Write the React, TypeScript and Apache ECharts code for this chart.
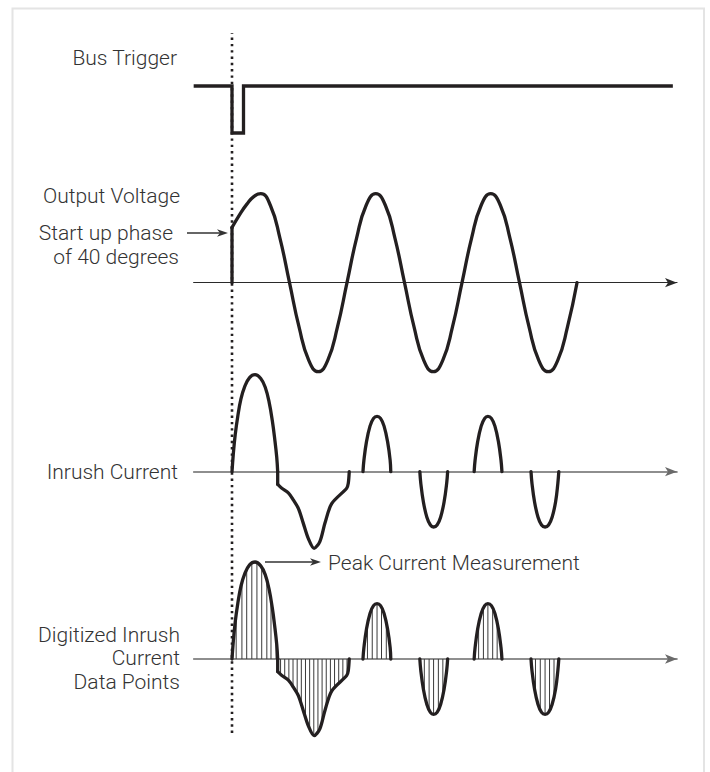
import React, { useEffect, useRef } from "react";
import * as echarts from "echarts";

// x unit: degrees of the mains cycle, counted from the bus trigger (0)
const X_MIN = -120;
const X_MAX = 1393;

// text
const LABEL_BUS = "Bus Trigger";
const LABEL_VOLT = "Output Voltage";
const LABEL_PHASE_1 = "Start up phase";
const LABEL_PHASE_2 = "of 40 degrees";
const LABEL_INRUSH = "Inrush Current";
const LABEL_DIG_1 = "Digitized Inrush";
const LABEL_DIG_2 = "Current";
const LABEL_DIG_3 = "Data Points";
const LABEL_PEAK = "Peak Current Measurement";

// bus trigger level (1 = high, 0 = low)
const busTrigger: number[][] = [[-120, 1], [0, 1], [0, 0], [36, 0], [36, 1], [1380, 1]];

// output voltage (peak = 1)
const voltageStep: number[][] = [[0, 0], [0, 0.62]];
const voltageWave: number[][] = [
  [0, 0.62], [23, 0.76], [46, 0.88], [69, 0.97], [90, 1],
  [120, 0.87], [150, 0.5], [180, 0], [210, -0.5], [240, -0.87], [270, -1], [300, -0.87], [330, -0.5],
  [360, 0], [390, 0.5], [420, 0.87], [450, 1], [480, 0.87], [510, 0.5], [540, 0],
  [570, -0.5], [600, -0.87], [630, -1], [660, -0.87], [690, -0.5], [720, 0],
  [750, 0.5], [780, 0.87], [810, 1], [840, 0.87], [870, 0.5], [900, 0],
  [930, -0.5], [960, -0.87], [990, -1], [1020, -0.87], [1050, -0.5], [1080, 0],
];

// inrush current (first peak = 1)
const inrushLobe1: number[][] = [
  [0, 0], [4, 0.18], [10, 0.38], [18, 0.57], [28, 0.75], [40, 0.88], [55, 0.97], [72, 1],
  [90, 0.96], [104, 0.87], [116, 0.72], [126, 0.53], [134, 0.33], [140, 0.15], [143, 0],
];
const inrushDip: number[][] = [[143, 0], [143, -0.13]];
const inrushTrough: number[][] = [
  [143, -0.13], [156, -0.17], [177, -0.22], [192, -0.29], [208, -0.38], [223, -0.53], [239, -0.69],
  [257, -0.79], [275, -0.72], [291, -0.53], [312, -0.33], [359, -0.17], [364, -0.12], [367, 0],
];
const lobeP1: number[][] = [
  [410, 0], [413, 0.12], [421, 0.31], [432, 0.47], [443, 0.55], [454, 0.57], [465, 0.55], [476, 0.47], [487, 0.31], [495, 0.12], [497, 0],
];
const lobeN1: number[][] = [
  [588, 0], [591, -0.12], [599, -0.31], [610, -0.47], [621, -0.55], [631, -0.57], [642, -0.55], [653, -0.47], [664, -0.31], [672, -0.12], [675, 0],
];
const lobeP2: number[][] = [
  [758, 0], [761, 0.12], [769, 0.31], [780, 0.47], [791, 0.55], [801, 0.57], [812, 0.55], [823, 0.47], [834, 0.31], [842, 0.12], [845, 0],
];
const lobeN2: number[][] = [
  [936, 0], [939, -0.12], [947, -0.31], [958, -0.47], [969, -0.55], [980, -0.57], [991, -0.55], [1002, -0.47], [1013, -0.31], [1020, -0.12], [1023, 0],
];

// digitizer samples
const samples: number[][] = [
  [13, 0.45], [31, 0.79], [46, 0.92], [62, 0.99], [78, 1.0], [93, 0.95], [109, 0.8], [122, 0.62], [138, 0.22],
  [152, -0.16], [165, -0.19], [178, -0.22], [191, -0.29], [204, -0.36], [217, -0.47], [230, -0.61], [243, -0.72],
  [256, -0.79], [269, -0.75], [282, -0.63], [295, -0.5], [308, -0.37], [321, -0.3], [334, -0.26], [347, -0.21], [360, -0.16],
  [424, 0.36], [439, 0.52], [454, 0.57], [468, 0.52], [483, 0.36],
  [602, -0.36], [617, -0.52], [631, -0.57], [646, -0.52], [660, -0.36],
  [772, 0.36], [787, 0.52], [801, 0.57], [816, 0.52], [830, 0.36],
  [950, -0.36], [965, -0.52], [980, -0.57], [994, -0.52], [1008, -0.36],
];

// dotted trigger marker
const triggerMarker: number[][] = [[0, 0], [0, 1]];

const INK = "#231f20";
const TEXT = "#333333";
const FONT = "Roboto";

export default function App() {
  const ref = useRef<HTMLDivElement>(null);

  useEffect(() => {
    document.body.style.margin = "0";
    if (!ref.current) return;
    const chart = echarts.init(ref.current, undefined, { renderer: "svg" });

    const gridLeft = 193.67;
    const gridRight = 33;
    const grids = [
      { left: gridLeft, right: gridRight, top: 86, height: 47 }, // 0 bus
      { left: gridLeft, right: gridRight, top: 175.9, height: 213.6 }, // 1 voltage
      { left: gridLeft, right: gridRight, top: 355.3, height: 213.4 }, // 2 inrush
      { left: gridLeft, right: gridRight, top: 542.6, height: 213.4 }, // 3 digitized
      { left: gridLeft, right: gridRight, top: 33, height: 700 }, // 4 marker
    ];

    const mkX = (i: number, axisShow: boolean, color: string, width: number) => ({
      gridIndex: i,
      type: "value",
      min: X_MIN,
      max: X_MAX,
      show: axisShow,
      axisLine: {
        show: axisShow,
        onZero: true,
        symbol: ["none", "arrow"],
        symbolSize: [7, 12],
        lineStyle: { color, width },
      },
      axisTick: { show: false },
      axisLabel: { show: false },
      splitLine: { show: false },
    });
    const mkY = (i: number, min: number, max: number) => ({
      gridIndex: i,
      type: "value",
      min,
      max,
      show: false,
      splitLine: { show: false },
    });

    const curve = (data: number[][], grid: number, smooth: boolean | number) => ({
      type: "line",
      xAxisIndex: grid,
      yAxisIndex: grid,
      data,
      smooth,
      showSymbol: false,
      symbol: "none",
      clip: false,
      z: 3,
      lineStyle: { color: INK, width: 3.3, cap: "round", join: "round" },
    });

    const currentSegments: [number[][], boolean | number][] = [
      [inrushLobe1, 0.4],
      [inrushDip, false],
      [inrushTrough, 0.3],
      [lobeP1, 0.4],
      [lobeN1, 0.4],
      [lobeP2, 0.4],
      [lobeN2, 0.4],
    ];

    const series: any[] = [
      {
        type: "line",
        xAxisIndex: 0,
        yAxisIndex: 0,
        data: busTrigger,
        showSymbol: false,
        symbol: "none",
        clip: false,
        lineStyle: { color: INK, width: 3.3, cap: "butt", join: "miter" },
      },
      curve(voltageStep, 1, false),
      curve(voltageWave, 1, true),
      ...currentSegments.map(([d, s]) => curve(d, 2, s)),
      ...currentSegments.map(([d, s]) => curve(d, 3, s)),
      {
        type: "bar",
        xAxisIndex: 3,
        yAxisIndex: 3,
        data: samples,
        barWidth: 1,
        z: 1,
        itemStyle: { color: "#3a3a3a" },
      },
      {
        type: "line",
        xAxisIndex: 4,
        yAxisIndex: 4,
        data: triggerMarker,
        showSymbol: false,
        symbol: "none",
        clip: false,
        z: 4,
        lineStyle: { color: INK, width: 2.6, type: [2.4, 3.9], cap: "butt" },
      },
    ];

    const txt = (text: string, x: number, y: number, align: string) => ({
      type: "text",
      x,
      y,
      silent: true,
      style: {
        text,
        fill: TEXT,
        fontFamily: FONT,
        fontWeight: 300,
        fontSize: 21,
        align,
        verticalAlign: "middle",
      },
    });

    const graphic: any[] = [
      {
        type: "rect",
        shape: { x: 12.5, y: 8.5, width: 691.5, height: 800 },
        style: { fill: "none", stroke: "#e4e4e4", lineWidth: 2 },
        silent: true,
      },
      txt(LABEL_BUS, 177, 58, "right"),
      txt(LABEL_VOLT, 180, 196, "right"),
      txt(LABEL_PHASE_1, 173, 233, "right"),
      txt(LABEL_PHASE_2, 179, 257, "right"),
      txt(LABEL_INRUSH, 178, 472, "right"),
      txt(LABEL_DIG_1, 180, 635, "right"),
      txt(LABEL_DIG_2, 180, 658, "right"),
      txt(LABEL_DIG_3, 180, 682, "right"),
      txt(LABEL_PEAK, 328, 563, "left"),
      {
        type: "line",
        shape: { x1: 187, y1: 233, x2: 220, y2: 233 },
        style: { stroke: "#333", lineWidth: 1.3 },
        silent: true,
      },
      {
        type: "polygon",
        shape: { points: [[228, 233], [217, 229.2], [220, 233], [217, 236.8]] },
        style: { fill: "#333" },
        silent: true,
      },
      {
        type: "line",
        shape: { x1: 265, y1: 562, x2: 313, y2: 562 },
        style: { stroke: "#333", lineWidth: 1.3 },
        silent: true,
      },
      {
        type: "polygon",
        shape: { points: [[321, 562], [310, 558.2], [313, 562], [310, 565.8]] },
        style: { fill: "#333" },
        silent: true,
      },
    ];

    chart.setOption({
      animation: false,
      backgroundColor: "#ffffff",
      grid: grids,
      xAxis: [
        mkX(0, false, "#555", 1.5),
        mkX(1, true, "#2a2a2a", 1.2),
        mkX(2, true, "#6a6a6a", 1.6),
        mkX(3, true, "#6a6a6a", 1.6),
        mkX(4, false, "#555", 1.5),
      ],
      yAxis: [mkY(0, 0, 1), mkY(1, -1.2, 1.2), mkY(2, -1, 1.2), mkY(3, -1, 1.2), mkY(4, 0, 1)],
      series,
      graphic,
    });

    return () => {
      chart.dispose();
    };
  }, []);

  return <div ref={ref} style={{ width: 710, height: 772 }} />;
}
